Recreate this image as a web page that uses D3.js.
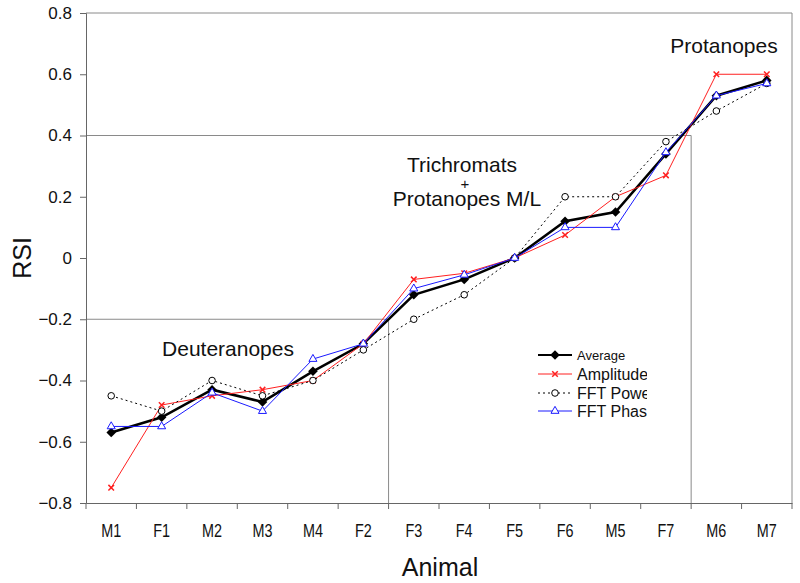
<!DOCTYPE html>
<html><head><meta charset="utf-8">
<script src="https://cdn.jsdelivr.net/npm/d3@7"></script>
<style>body{margin:0;background:#fff}svg{display:block}text{font-family:"Liberation Sans",Arial,sans-serif}</style>
</head><body>
<svg id="c" width="800" height="583"></svg>
<script>
const animals = ["M1","F1","M2","M3","M4","F2","F3","F4","F5","F6","M5","F7","M6","M7"];
const average   = [-0.57,-0.52,-0.43,-0.47,-0.37,-0.28,-0.12,-0.07,0.00,0.12,0.15,0.34,0.53,0.58];
const amplitude = [-0.75,-0.48,-0.45,-0.43,-0.40,-0.28,-0.07,-0.05,0.00,0.075,0.20,0.27,0.60,0.60];
const fftPower  = [-0.45,-0.50,-0.40,-0.45,-0.40,-0.30,-0.20,-0.12,0.00,0.20,0.20,0.38,0.48,0.57];
const fftPhase  = [-0.55,-0.55,-0.44,-0.50,-0.33,-0.28,-0.10,-0.055,0.00,0.10,0.10,0.345,0.53,0.57];
const yTicks = [-0.8,-0.6,-0.4,-0.2,0,0.2,0.4,0.6,0.8];

const svg = d3.select("#c");
const L = 86, R = 792, T = 13, B = 503;
const x = d3.scaleBand().domain(animals).range([L, R]);
const y = d3.scaleLinear().domain([-0.8, 0.8]).range([B, T]);
const cx = d => x(d) + x.bandwidth()/2;

// plot box (top and right)
svg.append("path").attr("d", `M${L},${T}H${R}V${B}`).attr("fill","none").attr("stroke","#8a8a8a").attr("stroke-width",1);
// group boundary lines
svg.append("path").attr("d", `M${L},${y(-0.2)}H${x("F3")}V${B}`).attr("fill","none").attr("stroke","#8a8a8a").attr("stroke-width",1);
svg.append("path").attr("d", `M${L},${y(0.4)}H${x("M6")}V${B}`).attr("fill","none").attr("stroke","#8a8a8a").attr("stroke-width",1);

// axes
const yAxis = d3.axisLeft(y).tickValues(yTicks).tickSize(6).tickPadding(8)
  .tickFormat(d => d === 0 ? "0" : d3.format(".1f")(d));
const gy = svg.append("g").attr("transform", `translate(${L},0)`).call(yAxis);
gy.selectAll("text").attr("font-size", 17).attr("fill","#111");
gy.selectAll("line,path").attr("stroke","#666");

const xAxis = d3.axisBottom(x).tickSize(0).tickPadding(21);
const gx = svg.append("g").attr("transform", `translate(0,${B})`).call(xAxis);
gx.selectAll("text").attr("font-size", 18).attr("fill","#111").attr("transform","scale(0.8,1)");
gx.select("path").attr("stroke","#666");
// boundary ticks
const bounds = d3.range(animals.length + 1).map(i => L + i * x.step());
svg.append("g").selectAll("line").data(bounds).join("line")
  .attr("x1", d=>d).attr("x2", d=>d).attr("y1", B).attr("y2", B+6).attr("stroke","#666");

// axis titles
svg.append("text").attr("transform", `translate(31,${y(0)}) rotate(-90)`).attr("text-anchor","middle")
  .attr("font-size", 25).attr("fill","#111").text("RSI");
svg.append("text").attr("x", 440).attr("y", 576).attr("text-anchor","middle")
  .attr("font-size", 25).attr("fill","#111").text("Animal");

// annotations
const ann = [
  {t:"Deuteranopes", x:228, y:356, fs:21},
  {t:"Trichromats", x:462, y:172, fs:21},
  {t:"+", x:465, y:189, fs:15},
  {t:"Protanopes M/L", x:467, y:206, fs:21},
  {t:"Protanopes", x:724, y:53, fs:21}
];
svg.append("g").selectAll("text").data(ann).join("text")
  .attr("x", d=>d.x).attr("y", d=>d.y).attr("text-anchor","middle")
  .attr("font-size", d=>d.fs).attr("fill","#111").text(d=>d.t);

const line = d3.line().x((d,i)=>cx(animals[i])).y(d=>y(d));
const diamond = d3.symbol().type(d3.symbolSquare).size(46);
const tri = d3.symbol().type(d3.symbolTriangle).size(28);
const cross = d3.symbol().type(d3.symbolX).size(22);

function drawSeries(vals, style){
  svg.append("path").datum(vals).attr("d", line).attr("fill","none")
    .attr("stroke", style.color).attr("stroke-width", style.w)
    .attr("stroke-dasharray", style.dash || null);
  const g = svg.append("g");
  vals.forEach((v,i)=>{
    addMarker(g, style.marker, cx(animals[i]), y(v), style.color);
  });
}
function addMarker(g, m, px, py, color){
  if (m === "diamond") g.append("path").attr("d", diamond()).attr("transform",`translate(${px},${py}) rotate(45)`).attr("fill", color);
  else if (m === "x") g.append("path").attr("d", cross()).attr("transform",`translate(${px},${py})`).attr("fill","none").attr("stroke",color).attr("stroke-width",1.5);
  else if (m === "circle") g.append("circle").attr("cx",px).attr("cy",py).attr("r",3.3).attr("fill","#fff").attr("stroke",color).attr("stroke-width",1);
  else if (m === "tri") g.append("path").attr("d", tri()).attr("transform",`translate(${px},${py})`).attr("fill","#fff").attr("stroke",color).attr("stroke-width",1);
}

const styles = [
  {name:"Average", vals:average, color:"#000", w:2.5, marker:"diamond", fs:13},
  {name:"Amplitude", vals:amplitude, color:"#ff2020", w:1, marker:"x", fs:16},
  {name:"FFT Power", vals:fftPower, color:"#000", w:1, dash:"2,3", marker:"circle", fs:16},
  {name:"FFT Phase", vals:fftPhase, color:"#1a1aff", w:1, marker:"tri", fs:16}
];
styles.forEach(s => drawSeries(s.vals, s));

// legend
svg.append("clipPath").attr("id","lc").append("rect").attr("x",530).attr("y",340).attr("width",117).attr("height",80);
const lg = svg.append("g").attr("clip-path","url(#lc)");
const rows = [355, 374, 393, 411];
styles.forEach((s,i)=>{
  const yy = rows[i];
  lg.append("line").attr("x1",538).attr("x2",572).attr("y1",yy).attr("y2",yy)
    .attr("stroke", s.color).attr("stroke-width", s.w === 2.5 ? 2 : 1).attr("stroke-dasharray", s.dash || null);
  addMarker(lg, s.marker, 555, yy, s.color);
  lg.append("text").attr("x",577).attr("y",yy).attr("dy","0.35em").attr("font-size", s.fs).attr("fill","#111").text(s.name);
});
</script>
</body></html>
